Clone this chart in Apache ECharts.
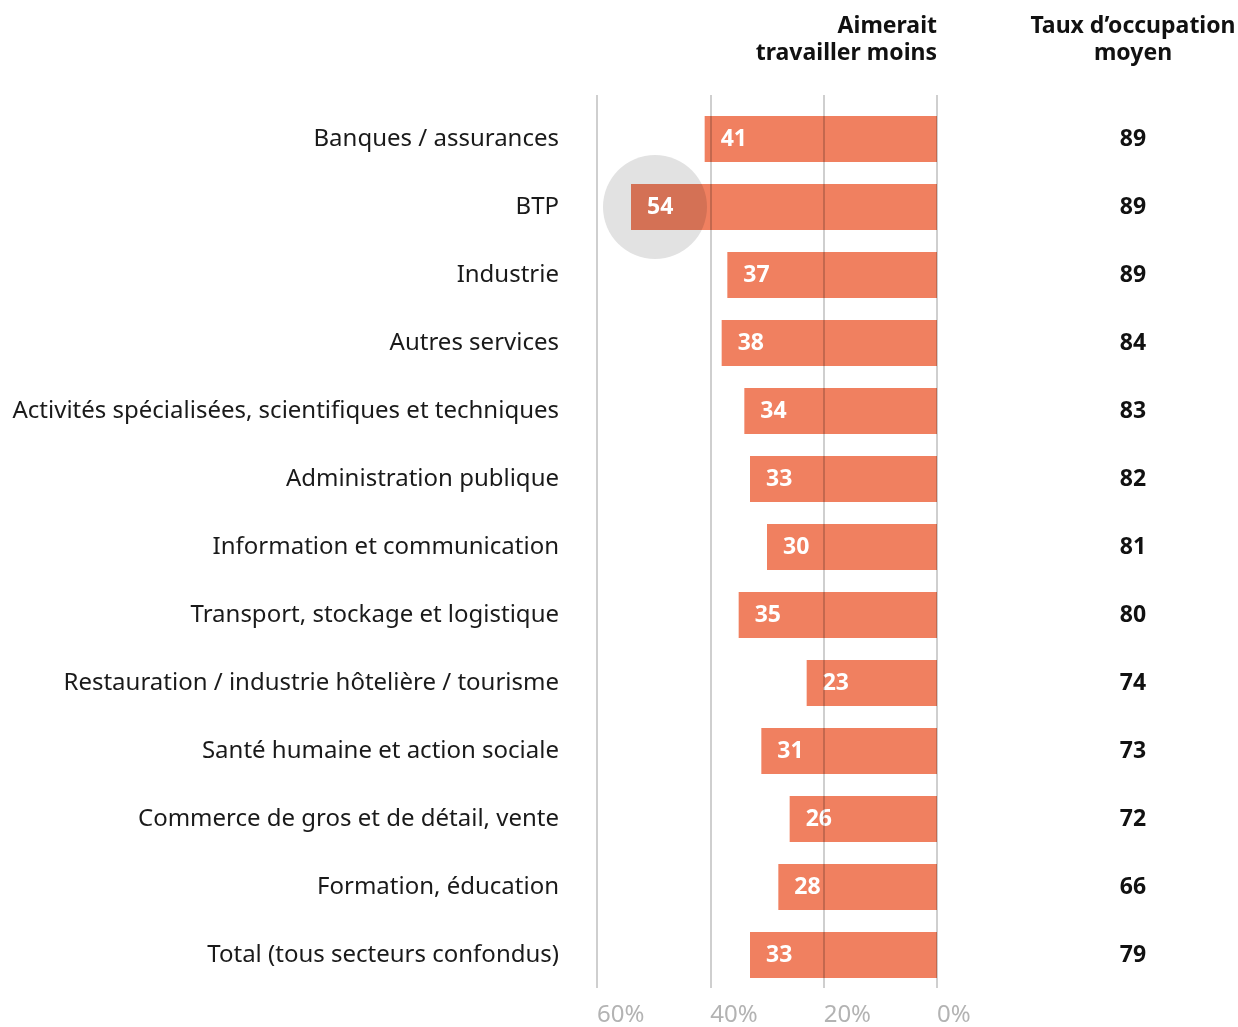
<!DOCTYPE html>
<html>
<head>
<meta charset="utf-8">
<script src="https://cdn.jsdelivr.net/npm/echarts@6/dist/echarts.min.js"></script>
<style>
  html, body { margin: 0; padding: 0; background: #fff; }
  #chart { width: 1238px; height: 1027px; }
</style>
</head>
<body>
<div id="chart"></div>
<script>
// Secteurs d'activité, du haut vers le bas
const sectors = [
  'Banques / assurances',
  'BTP',
  'Industrie',
  'Autres services',
  'Activités spécialisées, scientifiques et techniques',
  'Administration publique',
  'Information et communication',
  'Transport, stockage et logistique',
  'Restauration / industrie hôtelière / tourisme',
  'Santé humaine et action sociale',
  'Commerce de gros et de détail, vente',
  'Formation, éducation',
  'Total (tous secteurs confondus)'
];
// Part (%) des personnes qui aimeraient travailler moins
const wantLess = [41, 54, 37, 38, 34, 33, 30, 35, 23, 31, 26, 28, 33];
// Taux d'occupation moyen (%)
const occupation = [89, 89, 89, 84, 83, 82, 81, 80, 74, 73, 72, 66, 79];
// Graduations de l'axe horizontal
const axisTicks = [0, 20, 40, 60];
// Secteur mis en évidence par un disque gris
const highlighted = 'BTP';

const FONT = '"Noto Sans", sans-serif';
const BAR = '#f08060';
const BAR_W = 46;
const DISC_R = 52;
const DISC_SHIFT = 24;

const chart = echarts.init(document.getElementById('chart'), null, { renderer: 'canvas' });

const hiIndex = sectors.indexOf(highlighted);

// Disque de mise en évidence : partie claire sous la barre,
// partie foncée découpée à la forme de la barre au-dessus
function discRenderer(fill, clipToBar) {
  return function (params, api) {
    const v = api.value(0), idx = api.value(1);
    const p = api.coord([v, idx]);
    const p0 = api.coord([0, idx]);
    const el = {
      type: 'circle',
      shape: { cx: p[0] + DISC_SHIFT, cy: p[1], r: DISC_R },
      style: { fill: fill }
    };
    if (clipToBar) {
      el.clipPath = {
        type: 'rect',
        shape: {
          x: Math.min(p[0], p0[0]), y: p[1] - BAR_W / 2,
          width: Math.abs(p0[0] - p[0]), height: BAR_W
        }
      };
    }
    return el;
  };
}

const option = {
  backgroundColor: '#ffffff',
  animation: false,
  textStyle: { fontFamily: FONT },
  graphic: [
    {
      type: 'text', x: 937, y: 13,
      style: {
        text: 'Aimerait\ntravailler moins', align: 'right', verticalAlign: 'top',
        font: 'bold 23px ' + FONT, fill: '#111', lineHeight: 27
      }
    },
    {
      type: 'text', x: 1133, y: 13,
      style: {
        text: 'Taux d’occupation\nmoyen', align: 'center', verticalAlign: 'top',
        font: 'bold 23px ' + FONT, fill: '#111', lineHeight: 27
      }
    }
  ],
  grid: [
    // grille des lignes verticales
    { left: 597, width: 340, top: 95, height: 900 },
    // grille des barres
    { left: 597, width: 340, top: 105, height: 884 }
  ],
  xAxis: [
    {
      gridIndex: 0, type: 'value', inverse: true,
      min: axisTicks[0], max: axisTicks[axisTicks.length - 1], interval: 20,
      z: 10,
      axisLine: { show: false }, axisTick: { show: false },
      splitLine: { show: true, lineStyle: { color: 'rgba(0,0,0,0.25)', width: 1.5 } },
      axisLabel: {
        formatter: '{value}%', color: '#b3b3b3', fontSize: 24,
        fontFamily: FONT, align: 'left', margin: 15
      }
    },
    {
      gridIndex: 1, type: 'value', inverse: true,
      min: axisTicks[0], max: axisTicks[axisTicks.length - 1],
      show: false
    }
  ],
  yAxis: [
    { gridIndex: 0, type: 'category', data: sectors, show: false },
    {
      gridIndex: 1, type: 'category', data: sectors, inverse: true,
      axisLine: { show: false }, axisTick: { show: false },
      axisLabel: { color: '#1a1a1a', fontSize: 24, fontFamily: FONT, margin: 38 }
    },
    {
      gridIndex: 1, type: 'category', data: occupation.map(String), inverse: true,
      position: 'right',
      axisLine: { show: false }, axisTick: { show: false },
      axisLabel: {
        color: '#111', fontSize: 23, fontWeight: 'bold', fontFamily: FONT,
        align: 'center', margin: 196
      }
    }
  ],
  series: [
    {
      type: 'custom', xAxisIndex: 1, yAxisIndex: 1, z: 1,
      data: [[wantLess[hiIndex], hiIndex]],
      encode: { x: 0, y: 1 },
      renderItem: discRenderer('#e2e2e2', false)
    },
    {
      type: 'bar', xAxisIndex: 1, yAxisIndex: 1,
      data: wantLess, barWidth: BAR_W, z: 2,
      itemStyle: { color: BAR }
    },
    {
      type: 'custom', xAxisIndex: 1, yAxisIndex: 1, z: 3,
      data: [[wantLess[hiIndex], hiIndex]],
      encode: { x: 0, y: 1 },
      renderItem: discRenderer('#d47155', true)
    },
    {
      // étiquettes des valeurs
      type: 'bar', xAxisIndex: 1, yAxisIndex: 1,
      data: wantLess, barWidth: BAR_W, barGap: '-100%', z: 4,
      itemStyle: { color: 'rgba(0,0,0,0)' },
      label: {
        show: true, position: 'insideLeft', distance: 16,
        color: '#fff', fontSize: 23, fontWeight: 'bold', fontFamily: FONT
      }
    }
  ]
};

chart.setOption(option);
</script>
</body>
</html>
